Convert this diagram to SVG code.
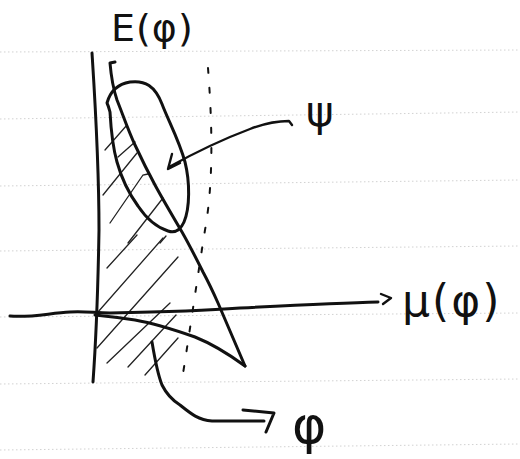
<svg xmlns="http://www.w3.org/2000/svg" width="520" height="459" viewBox="0 0 520 459">
<style>
.ink{fill:none;stroke:#111;stroke-linecap:round;stroke-linejoin:round}
.thick{stroke-width:3}
.med{stroke-width:2.4}
.hatch{fill:none;stroke:#222;stroke-width:1.3;stroke-linecap:round}
.rule{stroke:#d2d2d2;stroke-width:1;stroke-dasharray:1.5 2.5}
.lbl{font-family:"DejaVu Sans",sans-serif;fill:#111}
</style>
<rect width="520" height="459" fill="#fff"/>
<g id="paper-lines">
<line class="rule" x1="0" y1="52" x2="520" y2="50"/>
<line class="rule" x1="0" y1="119" x2="520" y2="112"/>
<line class="rule" x1="0" y1="186" x2="520" y2="180"/>
<line class="rule" x1="0" y1="251" x2="520" y2="246"/>
<line class="rule" x1="0" y1="317" x2="520" y2="313"/>
<line class="rule" x1="0" y1="384" x2="520" y2="379"/>
<line class="rule" x1="0" y1="450" x2="520" y2="444"/>
</g>
<g id="hatching">
<path class="hatch" d="M105,150 L127,125 M118,157 L135,142 M103,195 L137,153 M110,223 L143,175 L148,174 M128,243 L163,198 M160,243 L166,236"/>
<path class="hatch" d="M107,268 L137,235 M98,312 L163,238 M97,348 L178,257 M107,363 L170,303 M128,367 L176,315 M145,375 L178,338"/>
</g>
<g id="dotted-line">
<path class="ink" stroke-width="2" stroke-dasharray="5 15" d="M208,68 C212,120 214,180 205,230 C197,280 190,330 182,380"/>
</g>
<g id="axis-E">
<path class="ink thick" stroke-width="3.4" d="M92,53 C95,100 99,160 99,230 C98,290 96,340 93,382"/>
</g>
<g id="axis-mu">
<path class="ink thick" d="M10,316 C30,318 50,313 70,312 C85,311 95,313 110,313 C160,312 200,311 240,308 C300,305 340,303 378,302"/>
<path class="ink med" d="M381,294 L391,298 L383,304"/>
</g>
<g id="region">
<path class="ink thick" d="M115,62 L110,63 C111,75 113,88 117,100 C123,115 128,130 135,145 C142,160 148,172 155,185 C162,198 172,215 182,232 C190,246 196,258 203,272 C210,285 214,294 218,303 L245,366"/>
<path class="ink thick" d="M245,366 C230,355 215,345 195,337 C175,330 152,323 135,320 C115,317 105,316 95,315"/>
</g>
<g id="ellipse-psi">
<path class="ink thick" d="M107,103 C110,92 118,84 130,82 C145,80 155,86 162,104 C168,120 179,140 185,162 C190,182 190,208 184,222 C180,231 174,233 168,231 C156,227 146,218 138,206 C130,195 122,180 117,162 C113,148 111,130 110,112 C109,108 108,105 107,103"/>
</g>
<g id="connectors">
<g id="arrow-psi">
<path class="ink med" d="M292,125 L289,121 C276,121 263,124 250,129 C226,138 196,152 169,167"/>
<path class="ink med" d="M172,154 L168,169 L180,163"/>
</g>
<g id="arrow-phi">
<path class="ink thick" d="M152,342 C155,360 158,375 162,385 C167,395 172,400 180,405 C190,413 198,420 212,421 L264,421"/>
<path class="ink thick" d="M243,410 L274,413 L266,432"/>
</g>
</g>
<g id="label-E">
<text class="lbl" x="111" y="41" font-size="38" letter-spacing="1">E(φ)</text>
</g>
<g id="label-psi">
<text class="lbl" x="306" y="126" font-size="42">ψ</text>
</g>
<g id="label-mu">
<text class="lbl" x="402" y="316" font-size="44" letter-spacing="2">μ(φ)</text>
</g>
<g id="label-phi">
<text class="lbl" x="292" y="443" font-size="52">φ</text>
</g>
</svg>
